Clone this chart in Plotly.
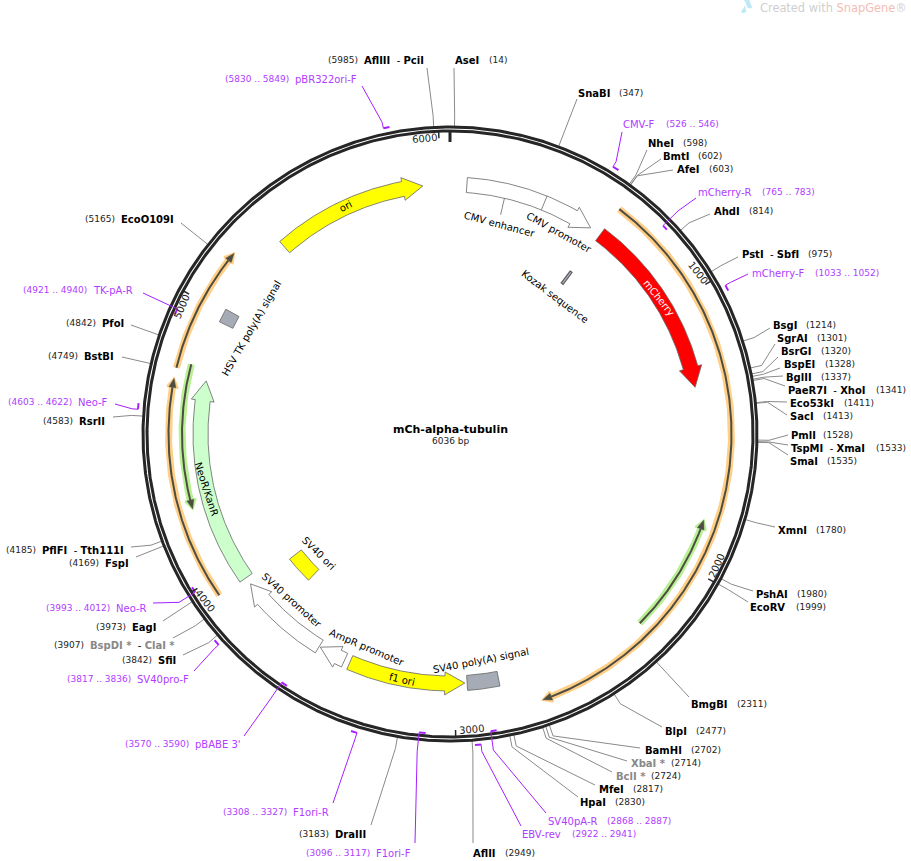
import numpy as np
import plotly.graph_objects as go

SEQ_LEN = 6036
TITLE = "mCh-alpha-tubulin"

# ---- restriction sites ----
SITE_NAMES = ["AseI", "SnaBI", "NheI", "BmtI", "AfeI", "AhdI", "PstI - SbfI", "BsgI", "SgrAI", "BsrGI",
              "BspEI", "BglII", "PaeR7I - XhoI", "Eco53kI", "SacI", "PmlI", "TspMI - XmaI", "SmaI",
              "XmnI", "PshAI", "EcoRV", "BmgBI", "BlpI", "BamHI", "XbaI *", "BclI *", "MfeI", "HpaI",
              "AflII", "DraIII", "SfiI", "BspDI * - ClaI *", "EagI", "FspI", "PflFI - Tth111I",
              "RsrII", "BstBI", "PfoI", "EcoO109I", "AflIII - PciI"]
SITE_BP = [14, 347, 598, 602, 603, 814, 975, 1214, 1301, 1320,
           1328, 1337, 1341, 1411, 1413, 1528, 1533, 1535,
           1780, 1980, 1999, 2311, 2477, 2702, 2714, 2724, 2817, 2830,
           2949, 3183, 3842, 3907, 3973, 4169, 4185,
           4583, 4749, 4842, 5165, 5985]

# where each site label sits on the page
SITE_NAME_X = [455, 578, 648, 663, 677, 714, 742, 773, 777, 781,
               784, 786, 788, 790, 790, 791, 791, 790,
               778, 756, 750, 691, 665, 645, 631, 616, 599, 580,
               473, 335, 158, 90, 132, 105, 42,
               79, 84, 102, 121, 364]
SITE_NUM_X = [489, 619, 683, 698, 709, 749, 808, 806, 817, 821,
              825, 821, 876, 844, 823, 823, 876, 827,
              816, 797, 796, 737, 696, 691, 671, 651, 633, 615,
              505, 299, 122, 54, 96, 69, 6,
              43, 48, 66, 85, 328]
SITE_Y = [60, 93, 143, 156, 169, 211, 254, 325, 338, 351,
          364, 377, 390, 403, 416, 435, 448, 461,
          530, 594, 607, 704, 731, 750, 763, 776, 789, 802,
          853, 834, 660, 645, 627, 563, 550,
          421, 356, 323, 219, 60]
SITE_END_X = [454, 577, 647, 661, 673, 710, 738, 770, 775, 778,
              780, 783, 785, 787, 787, 788, 788, 788,
              775, 753, 748, 689, 662, 640, 627, 612, 595, 578,
              473, 371, 183, 173, 163, 136, 131,
              113, 122, 131, 181, 427]
SITE_END_Y = [68, 99, 150, 159, 170, 214, 257, 328, 344, 357,
              368, 376, 386, 402, 415, 435, 445, 455,
              527, 591, 602, 697, 727, 748, 761, 772, 785, 797,
              843, 825, 655, 638, 621, 557, 547,
              417, 357, 325, 223, 68]

# ---- primers ----
PRIMER_NAMES = ["CMV-F", "mCherry-R", "mCherry-F", "SV40pA-R", "EBV-rev", "F1ori-F", "F1ori-R",
                "pBABE 3'", "SV40pro-F", "Neo-R", "Neo-F", "TK-pA-R", "pBR322ori-F"]
PRIMER_START = [526, 765, 1033, 2868, 2922, 3096, 3308, 3570, 3817, 3993, 4603, 4921, 5830]
PRIMER_END = [546, 783, 1052, 2887, 2941, 3117, 3327, 3590, 3836, 4012, 4622, 4940, 5849]
PRIMER_TAIL = [526, 765, 1033, 2887, 2922, 3117, 3308, 3590, 3817, 3993, 4603, 4940, 5830]
PRIMER_R = [313, 298, 313, 300, 312, 300, 313, 300, 313, 300, 313, 300, 313]
PRIMER_NAME_X = [623, 698, 752, 548, 522, 376, 293, 195, 137, 116, 78, 93, 295]
PRIMER_RANGE_X = [666, 762, 815, 607, 572, 306, 223, 125, 67, 46, 8, 23, 225]
PRIMER_Y = [124, 192, 273, 821, 834, 853, 812, 744, 679, 608, 402, 290, 79]
PRIMER_END_X = [622, 696, 748, 546, 521, 415, 333, 244, 194, 153, 115, 143, 362]
PRIMER_END_Y = [132, 198, 274, 813, 826, 843, 803, 736, 671, 603, 404, 293, 86]

# ---- features: name, from bp, to bp (arrow tip on "to") ----
ARROW_NAMES = ["ori", "CMV", "mCherry", "f1 ori", "AmpR promoter", "SV40 promoter", "NeoR/KanR"]
ARROW_FROM = [5340, 65, 620, 3415, 3437, 3548, 3937]
ARROW_TO = [5931, 575, 1328, 2961, 3543, 3908, 4733]
ARROW_FILL = ["#ffff00", "#ffffff", "#ff0000", "#ffff00", "#ffffff", "#ffffff", "#ccffcc"]
BLOCK_NAMES = ["SV40 ori", "SV40 poly(A) signal", "HSV TK poly(A) signal"]
BLOCK_FROM = [3757, 2830, 4962]
BLOCK_TO = [3891, 2952, 5015]
BLOCK_R = [196, 249.5, 249]
BLOCK_FILL = ["#ffff00", "#a6acb5", "#a6acb5"]
CMV_SPLIT = 372
CMV_LABEL_BP = 218
KOZAK_BP = 616

# translated ORFs
ORF_FROM = [620, 3941, 4755, 2262, 4780]
ORF_TO = [2695, 4718, 5196, 1824, 4255]
ORF_R = [281.5, 281.5, 281.5, 268, 268]
ORF_HALO = ["#ffcf87", "#ffcf87", "#ffcf87", "#b9ef95", "#b9ef95"]

# rotated labels
FEATURE_LABELS = ["ori", "CMV enhancer", "CMV promoter", "Kozak sequence", "mCherry", "HSV TK poly(A) signal",
                  "NeoR/KanR", "SV40 ori", "SV40 promoter", "AmpR promoter", "f1 ori", "SV40 poly(A) signal"]
FEATURE_X = [345, 500, 559, 555, 659, 251, 207, 319, 292, 367, 402, 481]
FEATURE_Y = [206, 224, 232, 296, 297, 328, 489, 553, 600, 647, 679, 660]
FEATURE_ANGLE = [-27, 15, 29, 37, 51, -60, 72, 45, 42, 23, 13, -11]

TICK_BP = [1000, 2000, 3000, 4000, 5000, 6000]
TICK_X = [698, 716, 471, 205, 181, 424]
TICK_Y = [272, 566, 729, 600, 307, 138]
TICK_ANGLE = [52, -66, -5, 52, -67, -5]

CX, CY = 450, 434
FONT = "DejaVu Sans"
PURPLE = "#a61fff"
RING = "#262626"
OUTLINE = "#666666"
CORE = "#4d4d42"


def pos(bp, r):
    a = np.radians(np.asarray(bp, dtype=float) / SEQ_LEN * 360)
    return CX + r * np.sin(a), CY - r * np.cos(a)


def arc(bp1, bp2, r):
    n = max(int(abs(bp2 - bp1) / 6), 2)
    return pos(np.linspace(bp1, bp2, n), r)


fig = go.Figure()


def line(xs, ys, color, width):
    fig.add_trace(go.Scatter(x=list(xs), y=list(ys), mode="lines", hoverinfo="skip",
                             line=dict(color=color, width=width)))


def radial(bp, r1, r2, color, width):
    x0, y0 = pos(bp, r1)
    x1, y1 = pos(bp, r2)
    line([x0, x1], [y0, y1], color, width)


def poly(xs, ys, fill, color=OUTLINE, width=0.8):
    fig.add_trace(go.Scatter(x=list(xs), y=list(ys), mode="lines", fill="toself", fillcolor=fill,
                             hoverinfo="skip", line=dict(color=color, width=width)))


def text(x, y, s, size=10, color="black", anchor="left", angle=0):
    fig.add_annotation(x=x, y=y, text=s, showarrow=False, xanchor=anchor, yanchor="middle", textangle=angle,
                       font=dict(family=FONT, size=size, color=color), xref="x", yref="y",
                       borderpad=0, borderwidth=0)


def neck_bp(bp1, bp2, r, head_len):
    sign = 1 if bp2 > bp1 else -1
    return bp2 - sign * head_len / r / (2 * np.pi) * SEQ_LEN


def arrow(bp1, bp2, r=249.5, half=7.5, head_half=11.5, head_len=20):
    neck = neck_bp(bp1, bp2, r, head_len)
    xo, yo = arc(bp1, neck, r + half)
    xi, yi = arc(neck, bp1, r - half)
    hx1, hy1 = pos(neck, r + head_half)
    tx, ty = pos(bp2, r)
    hx2, hy2 = pos(neck, r - head_half)
    xs = np.concatenate([xo, [hx1, tx, hx2], xi, xo[:1]])
    ys = np.concatenate([yo, [hy1, ty, hy2], yi, yo[:1]])
    return xs, ys


def head(neck, tip, r, half):
    x1, y1 = pos(neck, r + half)
    x2, y2 = pos(tip, r)
    x3, y3 = pos(neck, r - half)
    return [x1, x2, x3, x1], [y1, y2, y3, y1]


# leader lines sit below the ring
sx, sy = [], []
for bp, ex, ey in zip(SITE_BP, SITE_END_X, SITE_END_Y):
    x0, y0 = pos(bp, 307)
    x1, y1 = pos(bp, 319)
    sx += [x0, x1, ex, None]
    sy += [y0, y1, ey, None]
line(sx, sy, "#8a8a8a", 1)

px, py = [], []
for tail, r, ex, ey in zip(PRIMER_TAIL, PRIMER_R, PRIMER_END_X, PRIMER_END_Y):
    x0, y0 = pos(tail, r)
    x1, y1 = pos(tail, 319)
    px += [x0, x1, ex, None]
    py += [y0, y1, ey, None]

# the backbone
rx, ry = arc(0, SEQ_LEN, 307)
line(rx, ry, RING, 3)
rx, ry = arc(0, SEQ_LEN, 303)
line(rx, ry, RING, 3)

line(px, py, PURPLE, 1)
for a, b, r in zip(PRIMER_START, PRIMER_END, PRIMER_R):
    x, y = arc(a, b, r)
    line(x, y, PURPLE, 2)

# ticks
radial(0, 304, 292, RING, 3)
for bp in TICK_BP:
    radial(bp, 303, 296, RING, 1.5)
for bp, x, y, ang in zip(TICK_BP, TICK_X, TICK_Y, TICK_ANGLE):
    text(x, y, str(bp), 10, "#222222", "center", ang)

# ORF arrows
for a, b, r, halo in zip(ORF_FROM, ORF_TO, ORF_R, ORF_HALO):
    neck = neck_bp(a, b, r, 9)
    x, y = arc(a, neck, r)
    line(x, y, halo, 7)
    xs, ys = head(neck, b, r, 5.5)
    poly(xs, ys, halo, halo, 2)
    line(x, y, CORE, 2)
    xs, ys = head(neck, b, r, 3.5)
    poly(xs, ys, CORE, CORE, 0.5)

# feature arrows and blocks
for a, b, fill in zip(ARROW_FROM, ARROW_TO, ARROW_FILL):
    x, y = arrow(a, b)
    poly(x, y, fill)
for a, b, r, fill in zip(BLOCK_FROM, BLOCK_TO, BLOCK_R, BLOCK_FILL):
    xo, yo = arc(a, b, r + 7.5)
    xi, yi = arc(b, a, r - 7.5)
    poly(np.concatenate([xo, xi, xo[:1]]), np.concatenate([yo, yi, yo[:1]]), fill)
radial(CMV_SPLIT, 257, 242, OUTLINE, 0.8)
radial(CMV_LABEL_BP, 242, 225, OUTLINE, 0.8)
radial(KOZAK_BP, 203, 187, "#555555", 3.5)
radial(KOZAK_BP, 202, 188, "#a6acb5", 1.5)

for s, x, y, ang in zip(FEATURE_LABELS, FEATURE_X, FEATURE_Y, FEATURE_ANGLE):
    text(x, y, s, 10, "white" if s == "mCherry" else "black", "center", ang)


def site_text(name):
    parts = []
    for p in name.split(" - "):
        if p.endswith("*"):
            parts.append('<span style="color:#888888"><b>%s</b></span>' % p)
        else:
            parts.append("<b>%s</b>" % p)
    return "\u00a0\u00a0-\u00a0".join(parts)


for name, bp, nx, numx, y in zip(SITE_NAMES, SITE_BP, SITE_NAME_X, SITE_NUM_X, SITE_Y):
    text(nx, y, site_text(name), 10)
    text(numx, y, "(%d)" % bp, 9, "#222222")

for name, a, b, nx, rx0, y in zip(PRIMER_NAMES, PRIMER_START, PRIMER_END, PRIMER_NAME_X, PRIMER_RANGE_X, PRIMER_Y):
    text(nx, y, name, 10, "#b03cff")
    text(rx0, y, "(%d .. %d)" % (a, b), 9, "#b03cff")

text(450, 429, "<b>%s</b>" % TITLE, 11, "black", "center")
text(450, 441, "%d bp" % SEQ_LEN, 9, "#222222", "center")

# watermark
poly([744, 749, 752, 748, 746], [0, 0, 8, 8, 3], "#bfe8f6", "#bfe8f6", 0.5)
poly([741, 745, 746, 743], [12, 6, 12, 13], "#bfe8f6", "#bfe8f6", 0.5)
text(760, 7.5, 'Created with <span style="color:#f3bdb5">SnapGene</span>®', 11.4, "#cfcfcf")

fig.update_layout(
    width=911, height=861,
    margin=dict(l=0, r=0, t=0, b=0),
    paper_bgcolor="white", plot_bgcolor="white",
    showlegend=False,
    xaxis=dict(range=[0, 911], visible=False, fixedrange=True),
    yaxis=dict(range=[861, 0], visible=False, fixedrange=True),
)

fig.write_html("out.html", config=dict(displayModeBar=False),
               post_script="document.body.style.margin='0';document.body.style.overflow='hidden';")
